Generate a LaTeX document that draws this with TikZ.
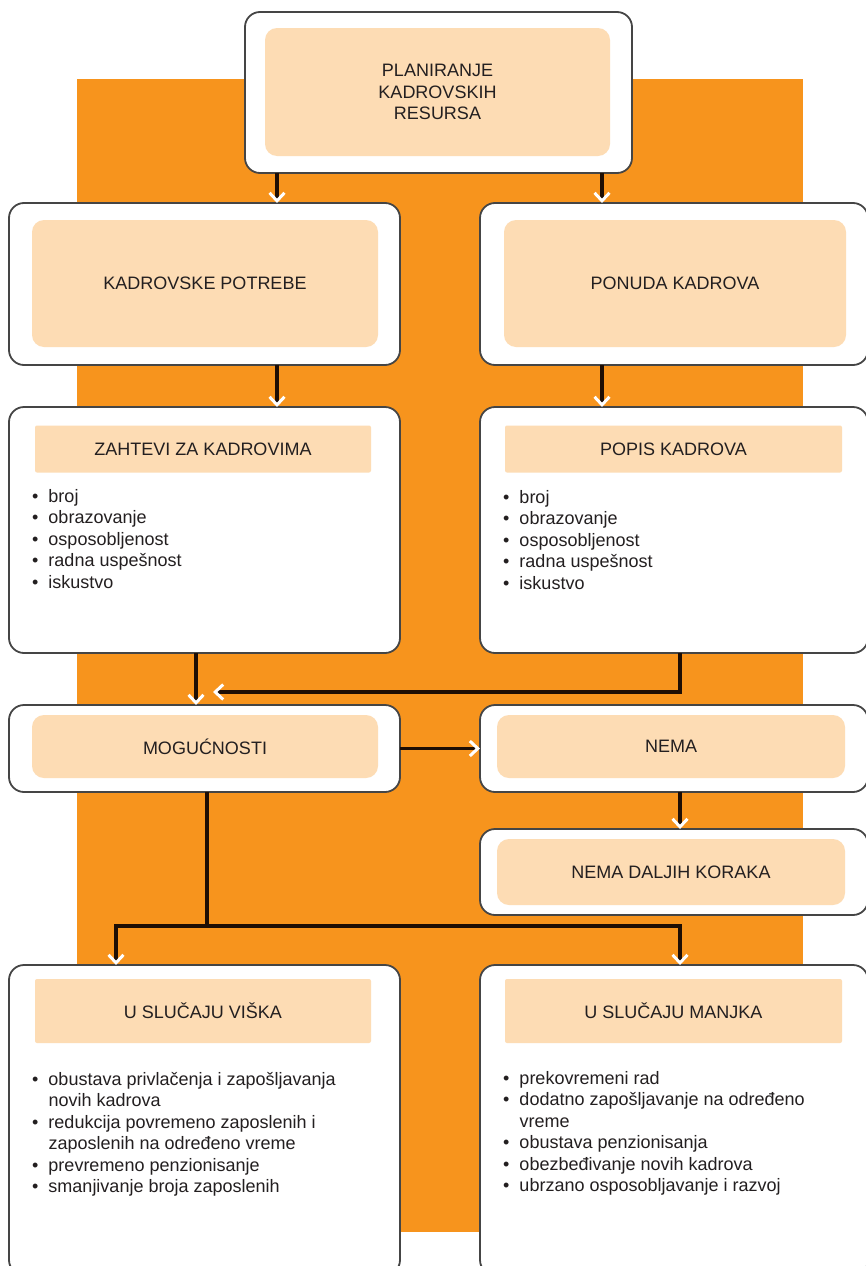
\documentclass[tikz,border=0pt]{standalone}
\usepackage{fontspec}
\setmainfont{Liberation Sans}
\usepackage{tikz}
\usetikzlibrary{arrows.meta}
\definecolor{narandza}{HTML}{F7941D}
\definecolor{breskva}{HTML}{FDDCB4}
\definecolor{sivaivica}{HTML}{454545}
\definecolor{linija}{HTML}{1E0E04}
\definecolor{tekst}{HTML}{231F20}

\begin{document}
\begin{tikzpicture}[x=1pt, y=-1pt,
	okvir/.style={draw=sivaivica, line width=1.8pt, fill=white, rounded corners=15pt, inner sep=0pt, outer sep=0pt},
	polje/.style={fill=breskva, rounded corners=12pt, inner sep=0pt, align=center, text=tekst, font=\fontsize{18}{21.5}\selectfont},
	zaglavlje/.style={polje, rounded corners=2pt},
	lista/.style={anchor=base west, inner sep=0pt, text=tekst, font=\fontsize{18}{21.5}\selectfont},
	veza/.style={draw=linija, line width=3.8pt, -{Straight Barb[color=white, line width=3pt, length=8pt, width=15pt]}},
	spoj/.style={draw=linija, line width=3.8pt}]
		    \clip (0,0) rectangle (866,1266);
		    \useasboundingbox (0,0) rectangle (866,1266);
		    \fill[narandza] (77,79) rectangle (803,1232);
		    \begin{scope}
					\node[okvir, minimum width=387pt, minimum height=161pt] (planiranje) at (438.5,92.5) {};
					\node[polje, minimum width=345pt, minimum height=128pt] (planiranjeTekst) at (437.5,92) {PLANIRANJE\\KADROVSKIH\\RESURSA};

					\node[okvir, minimum width=391pt, minimum height=162pt] (potrebe) at (204.5,284) {};
					\node[polje, minimum width=346pt, minimum height=127pt] (potrebeTekst) at (205,283.5) {KADROVSKE POTREBE};
					\node[okvir, minimum width=388pt, minimum height=162pt] (ponuda) at (674,284) {};
					\node[polje, minimum width=342pt, minimum height=127pt] (ponudaTekst) at (675,283.5) {PONUDA KADROVA};

					\node[okvir, minimum width=391pt, minimum height=246pt] (zahtevi) at (204.5,530) {};
					\node[zaglavlje, minimum width=336pt, minimum height=47pt] (zahteviTekst) at (203,449) {ZAHTEVI ZA KADROVIMA};
					\node[lista] (zahteviLista) at (32,502) {\begin{tabular}[t]{@{}l@{\hspace{10pt}}l@{}}
						\textbullet & broj\\ \textbullet & obrazovanje\\ \textbullet & osposobljenost\\
						\textbullet & radna uspešnost\\ \textbullet & iskustvo\end{tabular}};
					\node[okvir, minimum width=388pt, minimum height=246pt] (popis) at (674,530) {};
					\node[zaglavlje, minimum width=337pt, minimum height=47pt] (popisTekst) at (673.5,449) {POPIS KADROVA};
					\node[lista] (popisLista) at (503,503) {\begin{tabular}[t]{@{}l@{\hspace{10pt}}l@{}}
						\textbullet & broj\\ \textbullet & obrazovanje\\ \textbullet & osposobljenost\\
						\textbullet & radna uspešnost\\ \textbullet & iskustvo\end{tabular}};

					\node[okvir, minimum width=391pt, minimum height=87pt] (mogucnosti) at (204.5,748.5) {};
					\node[polje, minimum width=346pt, minimum height=63pt] (mogucnostiTekst) at (205,746.5) {MOGUĆNOSTI};
					\node[okvir, minimum width=388pt, minimum height=87pt] (nema) at (674,748.5) {};
					\node[polje, minimum width=348pt, minimum height=63pt] (nemaTekst) at (671,746.5) {NEMA};
					\node[okvir, minimum width=388pt, minimum height=86pt] (dalje) at (674,872) {};
					\node[polje, minimum width=348pt, minimum height=66pt] (daljeTekst) at (671,872) {NEMA DALJIH KORAKA};

					\node[okvir, minimum width=391pt, minimum height=310pt] (visak) at (204.5,1120) {};
					\node[zaglavlje, minimum width=336pt, minimum height=64pt] (visakTekst) at (203,1011) {U SLUČAJU VIŠKA};
					\node[lista] (visakLista) at (32,1085) {\begin{tabular}[t]{@{}l@{\hspace{10pt}}l@{}}
						\textbullet & obustava privlačenja i zapošljavanja\\ & novih kadrova\\
						\textbullet & redukcija povremeno zaposlenih i\\ & zaposlenih na određeno vreme\\
						\textbullet & prevremeno penzionisanje\\ \textbullet & smanjivanje broja zaposlenih\end{tabular}};
					\node[okvir, minimum width=388pt, minimum height=310pt] (manjak) at (674,1120) {};
					\node[zaglavlje, minimum width=337pt, minimum height=64pt] (manjakTekst) at (673.5,1011) {U SLUČAJU MANJKA};
					\node[lista] (manjakLista) at (503,1084) {\begin{tabular}[t]{@{}l@{\hspace{10pt}}l@{}}
						\textbullet & prekovremeni rad\\ \textbullet & dodatno zapošljavanje na određeno\\ & vreme\\
						\textbullet & obustava penzionisanja\\ \textbullet & obezbeđivanje novih kadrova\\
						\textbullet & ubrzano osposobljavanje i razvoj\end{tabular}};

					\coordinate (stazaA) at (277,0);
					\coordinate (stazaB) at (602,0);
					\coordinate (stazaC) at (196,0);
					\coordinate (stazaD) at (680,0);
					\coordinate (stazaE) at (116,0);
					\coordinate (ulaz) at (213,692);
					\coordinate (grana) at (207,926);

					\draw[veza] (planiranje.south -| stazaA) -- (potrebe.north -| stazaA); % od planiranja do potreba
					\draw[veza] (planiranje.south -| stazaB) -- (ponuda.north -| stazaB); % od planiranja do ponude
					\draw[veza] (potrebe.south -| stazaA) -- (zahtevi.north -| stazaA);
					\draw[veza] (ponuda.south -| stazaB) -- (popis.north -| stazaB);
					\draw[veza] (zahtevi.south -| stazaC) -- (mogucnosti.north -| stazaC);
					\draw[veza] (popis.south -| stazaD) |- (ulaz); % od popisa do mogucnosti
					\draw[veza] (mogucnosti.east) -- (nema.west);
					\draw[veza] (nema.south -| stazaD) -- (dalje.north -| stazaD);
					\draw[spoj] (mogucnosti.south -| grana) -- (grana);
					\draw[veza] (grana) -| (visak.north -| stazaE); % grana levo
					\draw[veza] (grana) -| (manjak.north -| stazaD); % grana desno
		    \end{scope}
\end{tikzpicture}
\end{document}
